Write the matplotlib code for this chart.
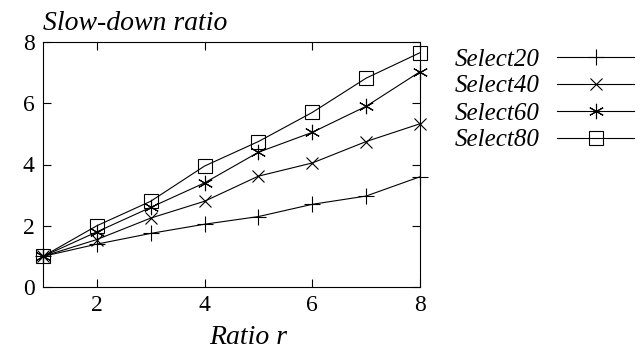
import matplotlib
matplotlib.use("Agg")
import matplotlib.pyplot as plt

plt.rcParams['font.family'] = ['Liberation Serif', 'DejaVu Serif']

# data
ratio = [1, 2, 3, 4, 5, 6, 7, 8]
select20 = [1, 1.4, 1.75, 2.05, 2.3, 2.7, 2.97, 3.6]
select40 = [1, 1.55, 2.25, 2.8, 3.62, 4.05, 4.75, 5.33]
select60 = [1, 1.8, 2.6, 3.4, 4.4, 5.05, 5.9, 7.03]
select80 = [1, 2.0, 2.8, 3.95, 4.75, 5.7, 6.82, 7.65]
names = ['Select20', 'Select40', 'Select60', 'Select80']

fig = plt.figure(figsize=(6.42, 3.54), dpi=100)
ax = fig.add_axes([43/642, 1 - 287/354, (420-43)/642, (287-42)/354])

lw = 0.8
ax.plot(ratio, select20, color='black', lw=lw, marker='+', ms=11, mew=0.8, label=names[0], clip_on=False)
ax.plot(ratio, select40, color='black', lw=lw, marker='x', ms=9, mew=0.8, label=names[1], clip_on=False)
ax.plot(ratio, select60, color='black', lw=lw, marker=(6, 2, 0), ms=11, mew=0.8, label=names[2], clip_on=False)
ax.plot(ratio, select80, color='black', lw=lw, marker='s', ms=10, mew=0.8,
        markerfacecolor='none', label=names[3], clip_on=False)

ax.set_xlim(1, 8)
ax.set_ylim(0, 8)
ax.set_xticks([2, 4, 6, 8])
ax.set_yticks([0, 2, 4, 6, 8])
ax.tick_params(direction='in', top=True, right=True, labelsize=17, length=6, width=0.8, pad=6)
for s in ax.spines.values():
    s.set_linewidth(0.8)

fig.text(43/642, 1 - 24/354, 'Slow-down ratio', fontsize=20, style='italic', ha='left', va='center')
fig.text(248/642, 1 - 337/354, 'Ratio r', fontsize=20, style='italic', ha='center', va='center')

leg = ax.legend(loc='upper left', bbox_to_anchor=(455/642, 1 - 48/354), bbox_transform=fig.transFigure,
                frameon=False, markerfirst=False, handlelength=3.1, fontsize=18,
                labelspacing=0.18, handletextpad=0.68, borderpad=0, borderaxespad=0)
for t in leg.get_texts():
    t.set_style('italic')

fig.savefig('out.png', dpi=100)
